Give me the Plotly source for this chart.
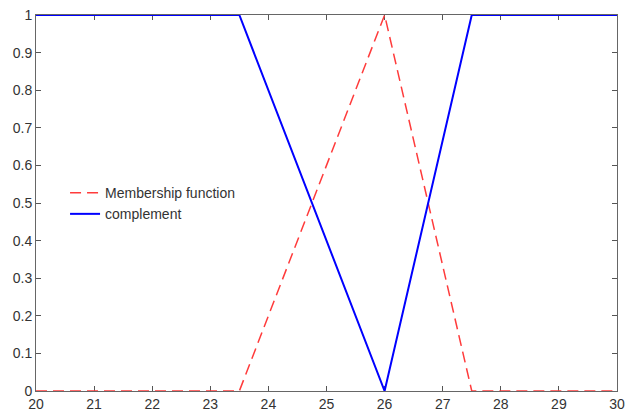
import plotly.graph_objects as go

x_pts = [20, 23.5, 26, 27.5, 30]
membership = [0, 0, 1, 0, 0]
complement = [1, 1, 0, 1, 1]

x_ticks = list(range(20, 31))
y_ticks = [round(i * 0.1, 1) for i in range(11)]
y_labels = ["0", "0.1", "0.2", "0.3", "0.4", "0.5", "0.6", "0.7", "0.8", "0.9", "1"]

fig = go.Figure()
fig.add_trace(go.Scatter(
    x=x_pts, y=membership, mode="lines", name="Membership function",
    line=dict(color="#ff3b3b", width=1.5, dash="11px,6px"),
))
fig.add_trace(go.Scatter(
    x=x_pts, y=complement, mode="lines", name="complement",
    line=dict(color="#0000ff", width=2),
))

axis_style = dict(
    showline=True, linecolor="#666666", linewidth=1, mirror="ticks",
    ticks="inside", ticklen=5, tickcolor="#555555",
    showgrid=False, zeroline=False, automargin=False,
    ticklabeloverflow="allow", layer="below traces",
    tickfont=dict(family="Liberation Sans, Arial", size=14, color="#333333"),
)

fig.update_xaxes(range=[20, 30], tickvals=x_ticks, **axis_style)
fig.update_yaxes(range=[0, 1], tickvals=y_ticks, ticktext=y_labels, **axis_style)

fig.update_layout(
    width=625, height=415,
    margin=dict(l=36, r=8, t=15, b=24),
    paper_bgcolor="white", plot_bgcolor="white",
    legend=dict(
        x=0.05, y=0.569, xanchor="left", yanchor="top",
        bgcolor="rgba(0,0,0,0)", itemwidth=30,
        font=dict(family="Liberation Sans, Arial", size=14, color="#333333"),
        tracegroupgap=0,
    ),
)

# drop the default 8px body margin so the figure fills the window
fig.write_html("out.html", config={"displayModeBar": False},
               post_script="document.body.style.margin='0';")
